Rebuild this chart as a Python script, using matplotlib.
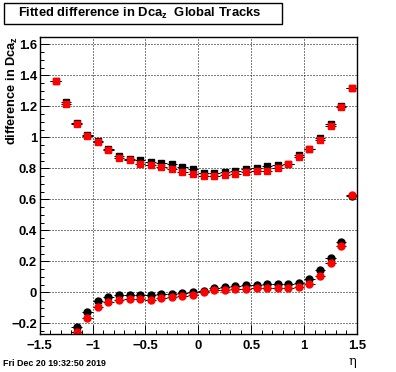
import matplotlib
matplotlib.use('Agg')
import matplotlib.pyplot as plt
from matplotlib.ticker import MultipleLocator, FuncFormatter
from matplotlib.patches import Rectangle

plt.rcParams['font.family'] = ['Liberation Sans', 'DejaVu Sans']
plt.rcParams['mathtext.fontset'] = 'custom'
plt.rcParams['mathtext.rm'] = 'Liberation Sans:bold'
plt.rcParams['mathtext.it'] = 'Liberation Sans:bold'
plt.rcParams['mathtext.bf'] = 'Liberation Sans:bold'

# eta bin centres
eta_upper = [-1.35, -1.25, -1.15, -1.05, -0.95, -0.85, -0.75, -0.65, -0.55, -0.45,
             -0.35, -0.25, -0.15, -0.05, 0.05, 0.15, 0.25, 0.35, 0.45, 0.55,
             0.65, 0.75, 0.85, 0.95, 1.05, 1.15, 1.25, 1.35, 1.45]
eta_lower = eta_upper[2:]

# upper curve (squares)
upper_black = [1.365, 1.225, 1.090, 1.012, 0.973, 0.922, 0.879, 0.860, 0.851, 0.843,
               0.836, 0.826, 0.808, 0.793, 0.772, 0.770, 0.774, 0.785, 0.798, 0.804,
               0.815, 0.819, 0.828, 0.888, 0.926, 0.998, 1.084, 1.205, 1.316]
upper_red = [1.365, 1.213, 1.088, 1.008, 0.972, 0.920, 0.868, 0.851, 0.830, 0.821,
             0.810, 0.797, 0.778, 0.765, 0.752, 0.749, 0.759, 0.761, 0.774, 0.783,
             0.785, 0.800, 0.826, 0.873, 0.924, 0.983, 1.073, 1.193, 1.316]

# lower curve (circles)
lower_black = [-0.224, -0.127, -0.056, -0.030, -0.017, -0.017, -0.017, -0.017, -0.011,
               -0.013, -0.006, 0.000, 0.010, 0.027, 0.036, 0.041, 0.047, 0.047, 0.052,
               0.052, 0.052, 0.058, 0.086, 0.144, 0.219, 0.325, 0.623]
lower_red = [-0.256, -0.168, -0.097, -0.065, -0.052, -0.045, -0.045, -0.050, -0.039,
             -0.032, -0.026, -0.017, 0.004, 0.014, 0.015, 0.023, 0.023, 0.028, 0.028,
             0.028, 0.028, 0.034, 0.052, 0.103, 0.191, 0.299, 0.630]

half_bin = 0.05
px = 0.72  # one pixel in points

fig = plt.figure(figsize=(3.96, 3.72), dpi=100)
ax = fig.add_axes([0.1003, 0.1013, 0.8012, 0.7984])

common = dict(xerr=half_bin, ls='none', ms=5, ecolor='black', elinewidth=px, capsize=0)
ax.errorbar(eta_upper, upper_black, fmt='s', color='black', **common)
ax.errorbar(eta_lower, lower_black, fmt='o', color='black', **common)
ax.errorbar(eta_upper, upper_red, fmt='s', color='red', mfc='red', mec='red', **common)
ax.errorbar(eta_lower, lower_red, fmt='o', color='red', mfc='red', mec='red', **common)

ax.set_xlim(-1.5, 1.5)
ax.set_ylim(-0.271, 1.645)

ax.xaxis.set_major_locator(MultipleLocator(0.5))
ax.xaxis.set_minor_locator(MultipleLocator(0.1))
ax.yaxis.set_major_locator(MultipleLocator(0.2))
ax.yaxis.set_minor_locator(MultipleLocator(0.05))


def root_fmt(v, pos):
    v = round(v, 6)
    if v == 0:
        return '0'
    return f'{v:g}'.replace('-', '\u2212')


ax.xaxis.set_major_formatter(FuncFormatter(root_fmt))
ax.yaxis.set_major_formatter(FuncFormatter(root_fmt))

ax.tick_params(which='both', direction='in', top=False, right=False, width=px,
               labelsize=9.4)
ax.tick_params(which='major', length=6.5)
ax.tick_params(which='minor', length=3.2)
ax.tick_params(axis='x', pad=4)
ax.tick_params(axis='y', pad=2)
for lab in ax.get_xticklabels() + ax.get_yticklabels():
    lab.set_fontweight('bold')
for sp in ax.spines.values():
    sp.set_linewidth(1.0)

ax.grid(True, which='major', color='black', linestyle=(0, (1, 2)), linewidth=px)
ax.set_axisbelow(True)

# y axis title, placed by hand so it stays inside the figure
fig.text(12.5 / 396, 1 - 36 / 372, r'difference in Dca$_z$', rotation=90,
         ha='center', va='top', fontsize=9.2, fontweight='bold')

# title box
fig.patches.append(Rectangle((3.5 / 396, 1 - 24 / 372), 278 / 396, 21 / 372,
                             transform=fig.transFigure, fill=False,
                             edgecolor='black', linewidth=1.0))
fig.text(140 / 396, 1 - 13.5 / 372, r'Fitted difference in Dca$_z$  Global Tracks',
         ha='center', va='center', fontsize=9.4, fontweight='bold')

fig.text(352 / 396, 1 - 362 / 372, '\u03b7', ha='center', va='center',
         fontsize=9.4, family=['DejaVu Serif'])
fig.text(3 / 396, 1 - 364 / 372, 'Fri Dec 20 19:32:50 2019', ha='left',
         va='center', fontsize=6.4, fontweight='bold')

fig.savefig('out.png', dpi=100)
